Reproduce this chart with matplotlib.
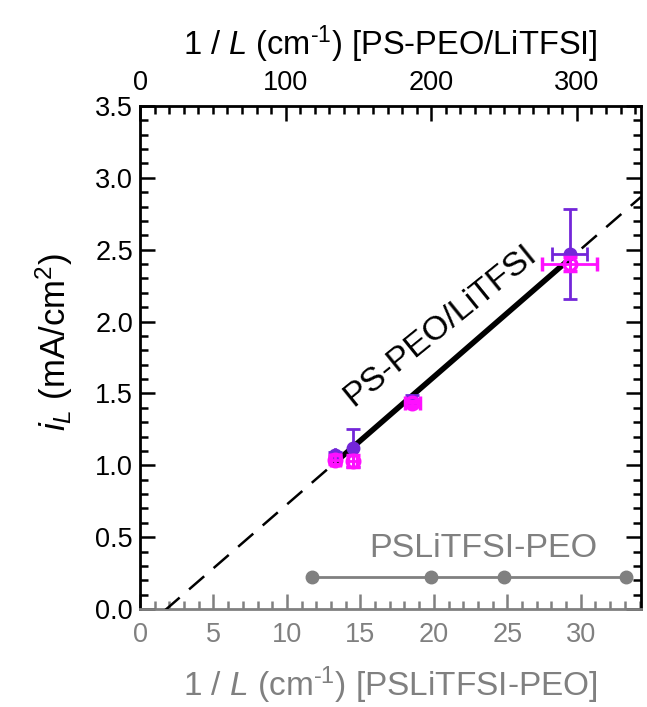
import numpy as np
import matplotlib
matplotlib.use('Agg')
import matplotlib.pyplot as plt
from matplotlib.ticker import MultipleLocator

plt.rcParams['font.family'] = ['Liberation Sans', 'DejaVu Sans']
plt.rcParams['mathtext.fontset'] = 'custom'
plt.rcParams['mathtext.rm'] = 'Liberation Sans'
plt.rcParams['mathtext.it'] = 'Liberation Sans:italic'

# PS-PEO/LiTFSI (top axis, 1/L in cm^-1)
inv_L_top = [134, 146, 187, 295]
iL_filled = [1.07, 1.12, 1.45, 2.47]
iL_filled_yerr = [0.02, 0.13, 0.04, 0.31]
iL_filled_xerr = [0, 0, 0, 12]
iL_open = [1.04, 1.03, 1.43, 2.40]
iL_open_yerr = [0.03, 0.04, 0.02, 0.05]
iL_open_xerr = [3, 3, 5, 19]

# linear fit through PS-PEO/LiTFSI data
fit_slope = 0.0088
fit_intercept = -0.16

# PSLiTFSI-PEO (bottom axis)
inv_L_bottom = [11.7, 19.8, 24.8, 33.1]
iL_bottom = [0.22, 0.22, 0.22, 0.22]

purple = '#7326d9'
magenta = '#ff10ff'
gray = '#808080'

fig = plt.figure(figsize=(6.47, 7.07), dpi=100)
ax = fig.add_axes([140 / 647, 1 - 609 / 707, 501 / 647, 503 / 707])
ax.set_xlim(0, 34.1)
ax.set_ylim(0, 3.5)

ax2 = ax.twiny()
ax2.set_xlim(0, 344)

# bottom axis series
ax.plot(inv_L_bottom, iL_bottom, '-o', color=gray, lw=2, ms=9, clip_on=False, zorder=5)
ax.text(23.4, 0.31, 'PSLiTFSI-PEO', color=gray, fontsize=24.5, ha='center', va='bottom')

# top axis series
xfit = np.array([inv_L_top[0], inv_L_top[-1]])
ax2.plot(xfit, fit_slope * xfit + fit_intercept, '-', color='black', lw=4, zorder=3)
xd = np.array([0, 344])
ax2.plot(xd, fit_slope * xd + fit_intercept, '--', color='black', lw=1.8,
         dashes=(8, 5), zorder=2)

ax2.errorbar(inv_L_top, iL_filled, yerr=iL_filled_yerr, xerr=iL_filled_xerr, fmt='o',
             color=purple, ms=9, elinewidth=2, capsize=5, capthick=2, zorder=4)
ax2.errorbar(inv_L_top, iL_open, yerr=iL_open_yerr, xerr=iL_open_xerr, fmt='o',
             color=magenta, mfc='none', mec=magenta, mew=2.5, ms=9, elinewidth=2,
             capsize=5, capthick=2, zorder=5)

ax2.text(206, 1.97, 'PS-PEO/LiTFSI', fontsize=24.5, rotation=39, ha='center', va='center',
         rotation_mode='anchor')

# axes styling
ax.xaxis.set_major_locator(MultipleLocator(5))
ax.xaxis.set_minor_locator(MultipleLocator(1))
ax.yaxis.set_minor_locator(MultipleLocator(0.1))
ax.set_yticks(np.arange(0, 3.51, 0.5))
ax.set_yticklabels([f'{v:.1f}' for v in np.arange(0, 3.51, 0.5)])
ax2.xaxis.set_major_locator(MultipleLocator(100))
ax2.xaxis.set_minor_locator(MultipleLocator(10))

ax.tick_params(axis='y', which='both', direction='in', left=True, right=True,
               labelsize=19.5, width=1.8, colors='black', pad=5)
ax.tick_params(axis='y', which='major', length=11)
ax.tick_params(axis='y', which='minor', length=6)
ax.tick_params(axis='x', which='both', direction='in', colors=gray, labelsize=19.5,
               width=1.8, pad=9)
ax.tick_params(axis='x', which='major', length=11)
ax.tick_params(axis='x', which='minor', length=6)
ax2.tick_params(axis='x', which='both', direction='in', labelsize=19.5, width=1.8, pad=7)
ax2.tick_params(axis='x', which='major', length=11)
ax2.tick_params(axis='x', which='minor', length=6)

for s in ax.spines.values():
    s.set_linewidth(2)
ax.spines['bottom'].set_color(gray)
ax.spines['top'].set_visible(False)
for name, s in ax2.spines.items():
    s.set_visible(name == 'top')
    s.set_linewidth(2)

ax.set_xlabel(r'1 / $\it{L}$ (cm$^{\text{-1}}$) [PSLiTFSI-PEO]', fontsize=24, color=gray,
              labelpad=12)
ax2.set_xlabel(r'1 / $\it{L}$ (cm$^{\text{-1}}$) [PS-PEO/LiTFSI]', fontsize=23.5, labelpad=11)
ax.set_ylabel(r'$\it{i_L}$ (mA/cm$^{2}$)', fontsize=25)
ax.yaxis.set_label_coords(-0.13, 0.53)

fig.savefig('out.png', dpi=100)
